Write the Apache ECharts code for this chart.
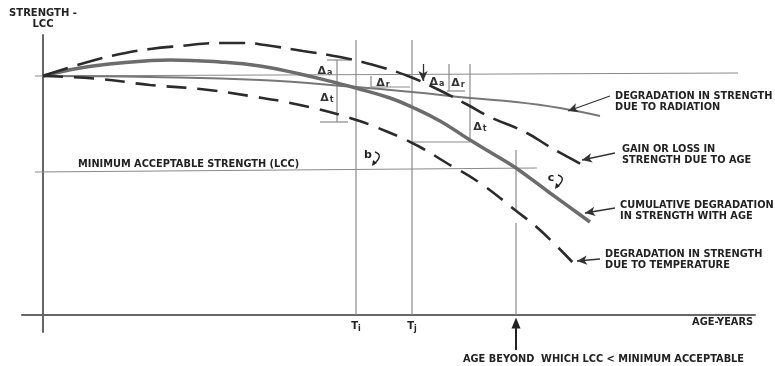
<!DOCTYPE html>
<html><head><meta charset="utf-8">
<script src="https://cdn.jsdelivr.net/npm/echarts@6/dist/echarts.min.js"></script>
<style>html,body{margin:0;padding:0;background:#fff}#c{width:775px;height:366px}</style>
</head><body><div id="c"></div>
<script>
// x = age (schematic units), y = strength (schematic units)
const cumulative = [[0,239],[37,247],[77,252],[127,255],[177,253],[217,249],[257,241],[294,232],[313,227],[347,217],[369,208],[397,194],[427,175],[457,157],[473,147],[507,122],[547,93]];
const radiation = [[0,239],[107,238],[217,235],[313,228],[369,223],[427,217],[473,213],[517,207],[557,199]];
const ageEffect = [[0,239],[25,247],[52,255],[77,261],[107,266],[137,269],[177,272],[202,272],[222,270],[260,264],[297,258],[334,249],[365,239],[394,226],[425,210],[447,198],[482,183],[507,168],[545,147]];
const temperature = [[0,239],[57,236],[107,230],[157,226],[207,219],[257,210],[307,197],[345,183],[377,168],[402,153],[437,132],[472,105],[497,85],[535,47]];
const baseline = [[-8,239],[695,242]];
const minAcceptable = [[-8,143],[494,147]];
const timeTicks = [313, 369];
const timeTickSubs = ['i', 'j'];
const ageLimit = 473;

const bracketLines = [
  [[timeTicks[0],275],[timeTicks[0],0]],
  [[timeTicks[1],275],[timeTicks[1],0]],
  [[ageLimit,165],[ageLimit,105]], [[ageLimit,92],[ageLimit,0]],
  [[294,255],[294,193]], [[284,255],[307,255]], [[277,193],[305,193]],
  [[328,239],[328,228]], [[328,228],[367,228]],
  [[406,251],[406,224]], [[404,224],[422,224]],
  [[427,251],[427,173]], [[369,173],[427,173]]
];
const arrowLines = [
  [[380,251],[380,234]],
  [[567,219],[525,204]],
  [[572,162],[539,155]],
  [[572,107],[542,102]],
  [[557,56],[534,54]]
];
const ageArrow = [[ageLimit,-35],[ageLimit,-8]];
const notes = [
  {text:'DEGRADATION IN STRENGTH\nDUE TO RADIATION', at:[572,213.5]},
  {text:'GAIN OR LOSS IN\nSTRENGTH DUE TO AGE', at:[579,160.5]},
  {text:'CUMULATIVE DEGRADATION\nIN STRENGTH WITH AGE', at:[577,104]},
  {text:'DEGRADATION IN STRENGTH\nDUE TO TEMPERATURE', at:[562,55.5]},
  {text:'MINIMUM ACCEPTABLE STRENGTH (LCC)', at:[35,151]},
  {text:'AGE BEYOND  WHICH LCC < MINIMUM ACCEPTABLE', at:[420,-44]},
  {text:'AGE-YEARS', at:[710,-7], align:'right'}
];
const deltas = [
  {sub:'a', at:[282,244]}, {sub:'t', at:[284,217]}, {sub:'r', at:[340,232]},
  {sub:'a', at:[394,233]}, {sub:'r', at:[415,232]}, {sub:'t', at:[437,188]}
];
const curveLetters = [{text:'b', at:[325,160]}, {text:'c', at:[508,137]}];

const FONT = '"DejaVu Sans", "Liberation Sans", Arial, sans-serif';
const INK = '#222';
const chart = echarts.init(document.getElementById('c'));

function seg(data, color, width) {
  return {type:'line', data, symbol:'none', clip:false, silent:true,
    lineStyle:{color, width}, z:1};
}
function curve(data, color, width, type) {
  return {type:'line', data, symbol:'none', smooth:0.45, clip:false, silent:true,
    lineStyle:{color, width, type: type || 'solid'}, z:4};
}
const series = [
  seg(baseline, '#8a8a8a', 1.2),
  seg(minAcceptable, '#8a8a8a', 1.2),
  ...bracketLines.map(d => seg(d, '#8a8a8a', 1.2)),
  curve(radiation, '#777', 2),
  curve(cumulative, '#6c6c6c', 3.5),
  curve(ageEffect, '#2b2b2b', 2.6, [26,10]),
  curve(temperature, '#2b2b2b', 2.6, [20,11]),
  {type:'line', data:ageArrow, clip:false, silent:true, showSymbol:true,
    symbol:(v, p) => p.dataIndex === 1 ? 'triangle' : 'none', symbolSize:[9,11],
    itemStyle:{color:'#222'}, lineStyle:{color:'#222', width:2}, z:5},
  {type:'line', data:[[0,239]], symbol:'none', clip:false, silent:true,
    markLine:{silent:true, animation:false, symbol:['none','arrow'], symbolSize:[7,10],
      label:{show:false}, lineStyle:{color:'#333', width:1.3, type:'solid'},
      emphasis:{disabled:true},
      data: arrowLines.map(a => [{coord:a[0]},{coord:a[1]}])}}
];

chart.setOption({
  animation:false,
  grid:{left:22, right:20, top:35, bottom:34},
  xAxis:{type:'value', min:-21, max:712, splitLine:{show:false},
    axisLine:{onZero:true, lineStyle:{color:'#666', width:2}},
    axisTick:{show:false},
    axisLabel:{customValues:timeTicks, margin:-12,
      formatter:(v) => '{t|T}{s|' + timeTickSubs[timeTicks.indexOf(v)] + '}',
      rich:{t:{fontFamily:FONT, fontWeight:'bold', fontSize:10, color:INK},
            s:{fontFamily:FONT, fontWeight:'bold', fontSize:8, color:INK, padding:[5,0,0,0]}}}},
  yAxis:{type:'value', min:-17, max:280, splitLine:{show:false},
    axisLine:{onZero:true, lineStyle:{color:'#666', width:2}},
    axisTick:{show:false}, axisLabel:{show:false},
    name:'STRENGTH -\nLCC', nameLocation:'end', nameGap:5,
    nameTextStyle:{fontFamily:FONT, fontWeight:'bold', fontSize:10, color:INK, lineHeight:11, align:'center'}},
  series
});

const px = p => chart.convertToPixel({gridIndex:0}, p);
const graphic = [];
notes.forEach(n => {
  const [x,y] = px(n.at);
  graphic.push({type:'text', x, y, silent:true, style:{text:n.text, fontFamily:FONT, fontWeight:'bold',
    fontSize:9.8, lineHeight:11, fill:INK, align:n.align || 'left', verticalAlign:'middle'}});
});
deltas.forEach(d => {
  const [x,y] = px(d.at);
  graphic.push({type:'text', x, y, silent:true, style:{text:'{d|Δ}{s|' + d.sub + '}', align:'center', verticalAlign:'middle',
    rich:{d:{fontFamily:FONT, fontWeight:'bold', fontSize:11, fill:'#333'},
          s:{fontFamily:FONT, fontWeight:'bold', fontSize:8, fill:'#333', padding:[4,0,0,1]}}}});
});
curveLetters.forEach(c => {
  const [x,y] = px(c.at);
  graphic.push({type:'text', x, y, silent:true, style:{text:c.text, fontFamily:FONT, fontWeight:'bold',
    fontSize:11, fill:INK, align:'center', verticalAlign:'middle'}});
  graphic.push({type:'bezierCurve', silent:true, shape:{x1:x+7, y1:y-3, cpx1:x+16, cpy1:y, x2:x+6, y2:y+9},
    style:{stroke:INK, lineWidth:1.4, fill:null}});
  graphic.push({type:'polygon', silent:true, shape:{points:[[x+4,y+11],[x+5,y+5],[x+9,y+8]]},
    style:{fill:INK}});
});
chart.setOption({graphic});
</script></body></html>
